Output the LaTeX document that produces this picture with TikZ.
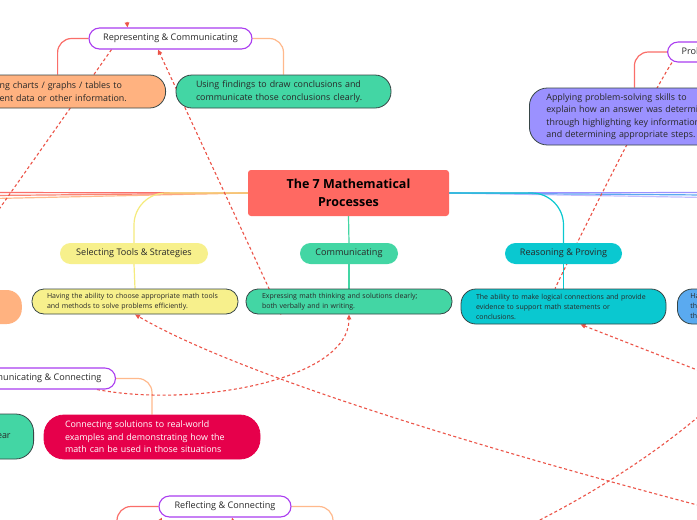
\documentclass[tikz,border=0pt]{standalone}
\usepackage{fontspec}
\setmainfont{Open Sans}
\usetikzlibrary{arrows.meta, positioning, backgrounds, calc}
\definecolor{titlered}{RGB}{255,105,98}
\definecolor{toolyellow}{RGB}{247,240,140}
\definecolor{commgreen}{RGB}{67,214,164}
\definecolor{reascyan}{RGB}{10,200,208}
\definecolor{probviolet}{RGB}{155,145,255}
\definecolor{reporange}{RGB}{255,178,128}
\definecolor{conncrimson}{RGB}{230,0,75}
\definecolor{hintblue}{RGB}{90,170,240}
\definecolor{topicedge}{RGB}{170,60,240}
\definecolor{noteedge}{RGB}{55,70,70}
\definecolor{linkred}{RGB}{236,84,72}
\definecolor{inktext}{RGB}{40,40,40}
\definecolor{branchred}{RGB}{250,110,105}
\definecolor{branchorange}{RGB}{255,185,140}
\definecolor{branchyellow}{RGB}{245,235,125}

\begin{document}
\begin{tikzpicture}[x=1pt, y=-1pt,
    title/.style={fill=titlered, rounded corners=3pt, minimum width=201pt,
                  minimum height=46pt, inner sep=0pt, align=center,
                  font=\fontsize{12.5}{18}\selectfont\bfseries},
    process/.style={rounded corners=10.5pt, minimum height=21pt, inner sep=0pt,
                    font=\fontsize{9.1}{11}\selectfont, text=inktext},
    topic/.style={process, draw=topicedge, line width=1.1pt, fill=white},
    note/.style={draw=noteedge, line width=0.8pt, rounded corners=12pt,
                 inner ysep=0pt, align=left, text=inktext,
                 font=\fontsize{7}{10}\selectfont},
    idea/.style={note, rounded corners=16pt, font=\fontsize{8.9}{12.5}\selectfont},
    branch/.style={line width=1.2pt},
    link/.style={draw=linkred, line width=1.1pt, dash pattern=on 3pt off 2.5pt,
                 -{Triangle[length=5pt,width=4.5pt]}}
  ]
  \useasboundingbox (0,0) rectangle (697,520);
  \clip (0,0) rectangle (697,520);

  % centre
  \node[title] (title) at (348.5,193) {The 7 Mathematical\\Processes};

  % row of processes
  \node[process, fill=toolyellow, minimum width=148pt] (tools) at (134,253.5) {Selecting Tools \& Strategies};
  \node[process, fill=commgreen, minimum width=98pt] (comm) at (349,253.5) {Communicating};
  \node[process, fill=reascyan, minimum width=117pt] (reason) at (563.5,253.5) {Reasoning \& Proving};

  \node[note, fill=toolyellow, text width=176pt, inner xsep=15pt, minimum height=25pt] (toolsnote) at (135,301.5)
    {Having the ability to choose appropriate math tools\\and methods to solve problems efficiently.};
  \node[note, fill=commgreen, text width=174pt, inner xsep=16pt, minimum height=25pt] (commnote) at (349,301.5)
    {Expressing math thinking and solutions clearly;\\both verbally and in writing.};
  \node[note, fill=reascyan, text width=175pt, inner xsep=15pt, minimum height=35pt, rounded corners=15pt] (reasonnote) at (563.5,306.5)
    {The ability to make logical connections and provide\\evidence to support math statements or\\conclusions.};
  \node[note, fill=hintblue, text width=175pt, inner xsep=13pt, minimum height=35pt, rounded corners=15pt, anchor=west] (hintnote) at (677,306.5)
    {Ha\\th\\th};
  \node[fill=reporange, rounded corners=15pt, minimum width=200pt, minimum height=34pt, anchor=east] (leftnote) at (22,307) {};

  % representing
  \node[topic, minimum width=163pt] (represent) at (170.5,38.5) {Representing \& Communicating};
  \node[idea, fill=reporange, text width=146pt, inner xsep=20pt, minimum height=33pt, anchor=east] (chartnote) at (166,91.5)
    {ng charts / graphs / tables to\\ent data or other information.};
  \node[idea, fill=commgreen, text width=175pt, inner xsep=20pt, minimum height=33pt] (findnote) at (283.5,91.5)
    {Using findings to draw conclusions and\\communicate those conclusions clearly.};

  % problem solving
  \node[topic, anchor=west, inner xsep=14pt, minimum height=20pt] (problem) at (667,52) {Problem Solving};
  \node[idea, fill=probviolet, text width=180pt, inner xsep=17pt, minimum height=57pt, rounded corners=18pt, anchor=west] (probnote) at (529,116.5)
    {Applying problem-solving skills to\\explain how an answer was determined\\through highlighting key information\\and determining appropriate steps.};

  % connecting
  \node[topic, anchor=east, inner xsep=14pt] (connect) at (116,378.5) {Communicating \& Connecting};
  \node[idea, fill=commgreen, text width=60pt, inner xsep=23pt, minimum height=45pt, rounded corners=18pt, align=right, anchor=east] (earnote) at (34,436.5) {ear};
  \node[idea, draw=conncrimson, fill=conncrimson, text=white, text width=174pt, inner xsep=21pt, minimum height=44pt, rounded corners=20pt] (realnote) at (152,437)
    {Connecting solutions to real-world\\examples and demonstrating how the\\math can be used in those situations};
  \node[topic, minimum width=132pt] (reflect) at (225,506.5) {Reflecting \& Connecting};

  \begin{scope}[on background layer]
    \clip (0,0) rectangle (697,520);
    \fill[white] (0,0) rectangle (697,520);
    \coordinate (westA) at (-5,192.5);
    \coordinate (westB) at (-5,195.5);
    \coordinate (westC) at (-5,198.5);
    \coordinate (eastA) at (705,192.5);
    \coordinate (eastB) at (705,195);
    \coordinate (eastC) at (705,197.5);
    \coordinate (reflectL) at (117,535);
    \coordinate (reflectR) at (333,535);

    \draw[branch, branchorange] (title.west) -- (westC);
    \draw[branch, branchred!70!branchorange] (title.west) -- (westB);
    \draw[branch, branchred] (title.west) -- (westA);
    \draw[branch, probviolet!60] (title.east) -- (eastC);
    \draw[branch, hintblue] (title.east) -- (eastB);
    \draw[branch, probviolet] (title.east) -- (eastA);

    \draw[branch, branchyellow, rounded corners=32pt] (title.west) -| (tools.north);
    \draw[branch, branchyellow] (tools.south) -- (toolsnote.north);
    \draw[branch, commgreen] (title.south) -- (comm.north);
    \draw[branch, commgreen] (comm.south) -- (commnote.north);
    \draw[branch, reascyan, rounded corners=32pt] (title.east) -| (reason.north);
    \draw[branch, reascyan] (reason.south) -- (reasonnote.north);

    \draw[branch, branchred, rounded corners=14pt] (represent.west) -| ([xshift=-15pt]chartnote.north);
    \draw[branch, branchorange, rounded corners=14pt] (represent.east) -| (findnote.north);
    \draw[branch, branchred, rounded corners=14pt] (problem.west) -| ([xshift=-2pt]probnote.north);
    \draw[branch, branchorange, rounded corners=14pt] (connect.east) -| (realnote.north);
    \draw[branch, branchred, rounded corners=14pt] (reflect.west) -| (reflectL);
    \draw[branch, branchorange, rounded corners=14pt] (reflect.east) -| (reflectR);

    % dashed relations
    \coordinate (offA) at (-5,215);
    \coordinate (offD) at (705,373);
    \coordinate (offE) at (705,507);
    \coordinate (offG1) at (530,525);
    \coordinate (offG2) at (705,411);
    \coordinate (offTop) at (127,22);
    \coordinate (offBotA) at (154,532);
    \coordinate (offBotB) at (236,532);
    \draw[link, -] ([xshift=-59pt]represent.south) -- (offA);
    \draw[link] ([xshift=-68pt]commnote.south) -- ([xshift=-12.5pt]represent.south);
    \draw[link] (offTop) -- ([xshift=-43pt]represent.north);
    \draw[link, -] ([xshift=5pt]problem.south west) .. controls (655,88) and (590,215) .. ([xshift=-8.5pt]reasonnote.north);
    \draw[link] (offD) -- ([xshift=17pt]reasonnote.south);
    \draw[link] (offE) .. controls (450,440) and (230,370) .. (toolsnote.south);
    \draw[link] ([xshift=-19pt]connect.south east) .. controls (195,408) and (349,380) .. (commnote.south);
    \draw[link, -] (offG1) .. controls (600,490) and (660,450) .. (offG2);
    \draw[link] (offBotA) -- ([xshift=-63pt]reflect.south);
    \draw[link] (offBotB) -- ([xshift=7pt]reflect.south);
  \end{scope}
\end{tikzpicture}
\end{document}
